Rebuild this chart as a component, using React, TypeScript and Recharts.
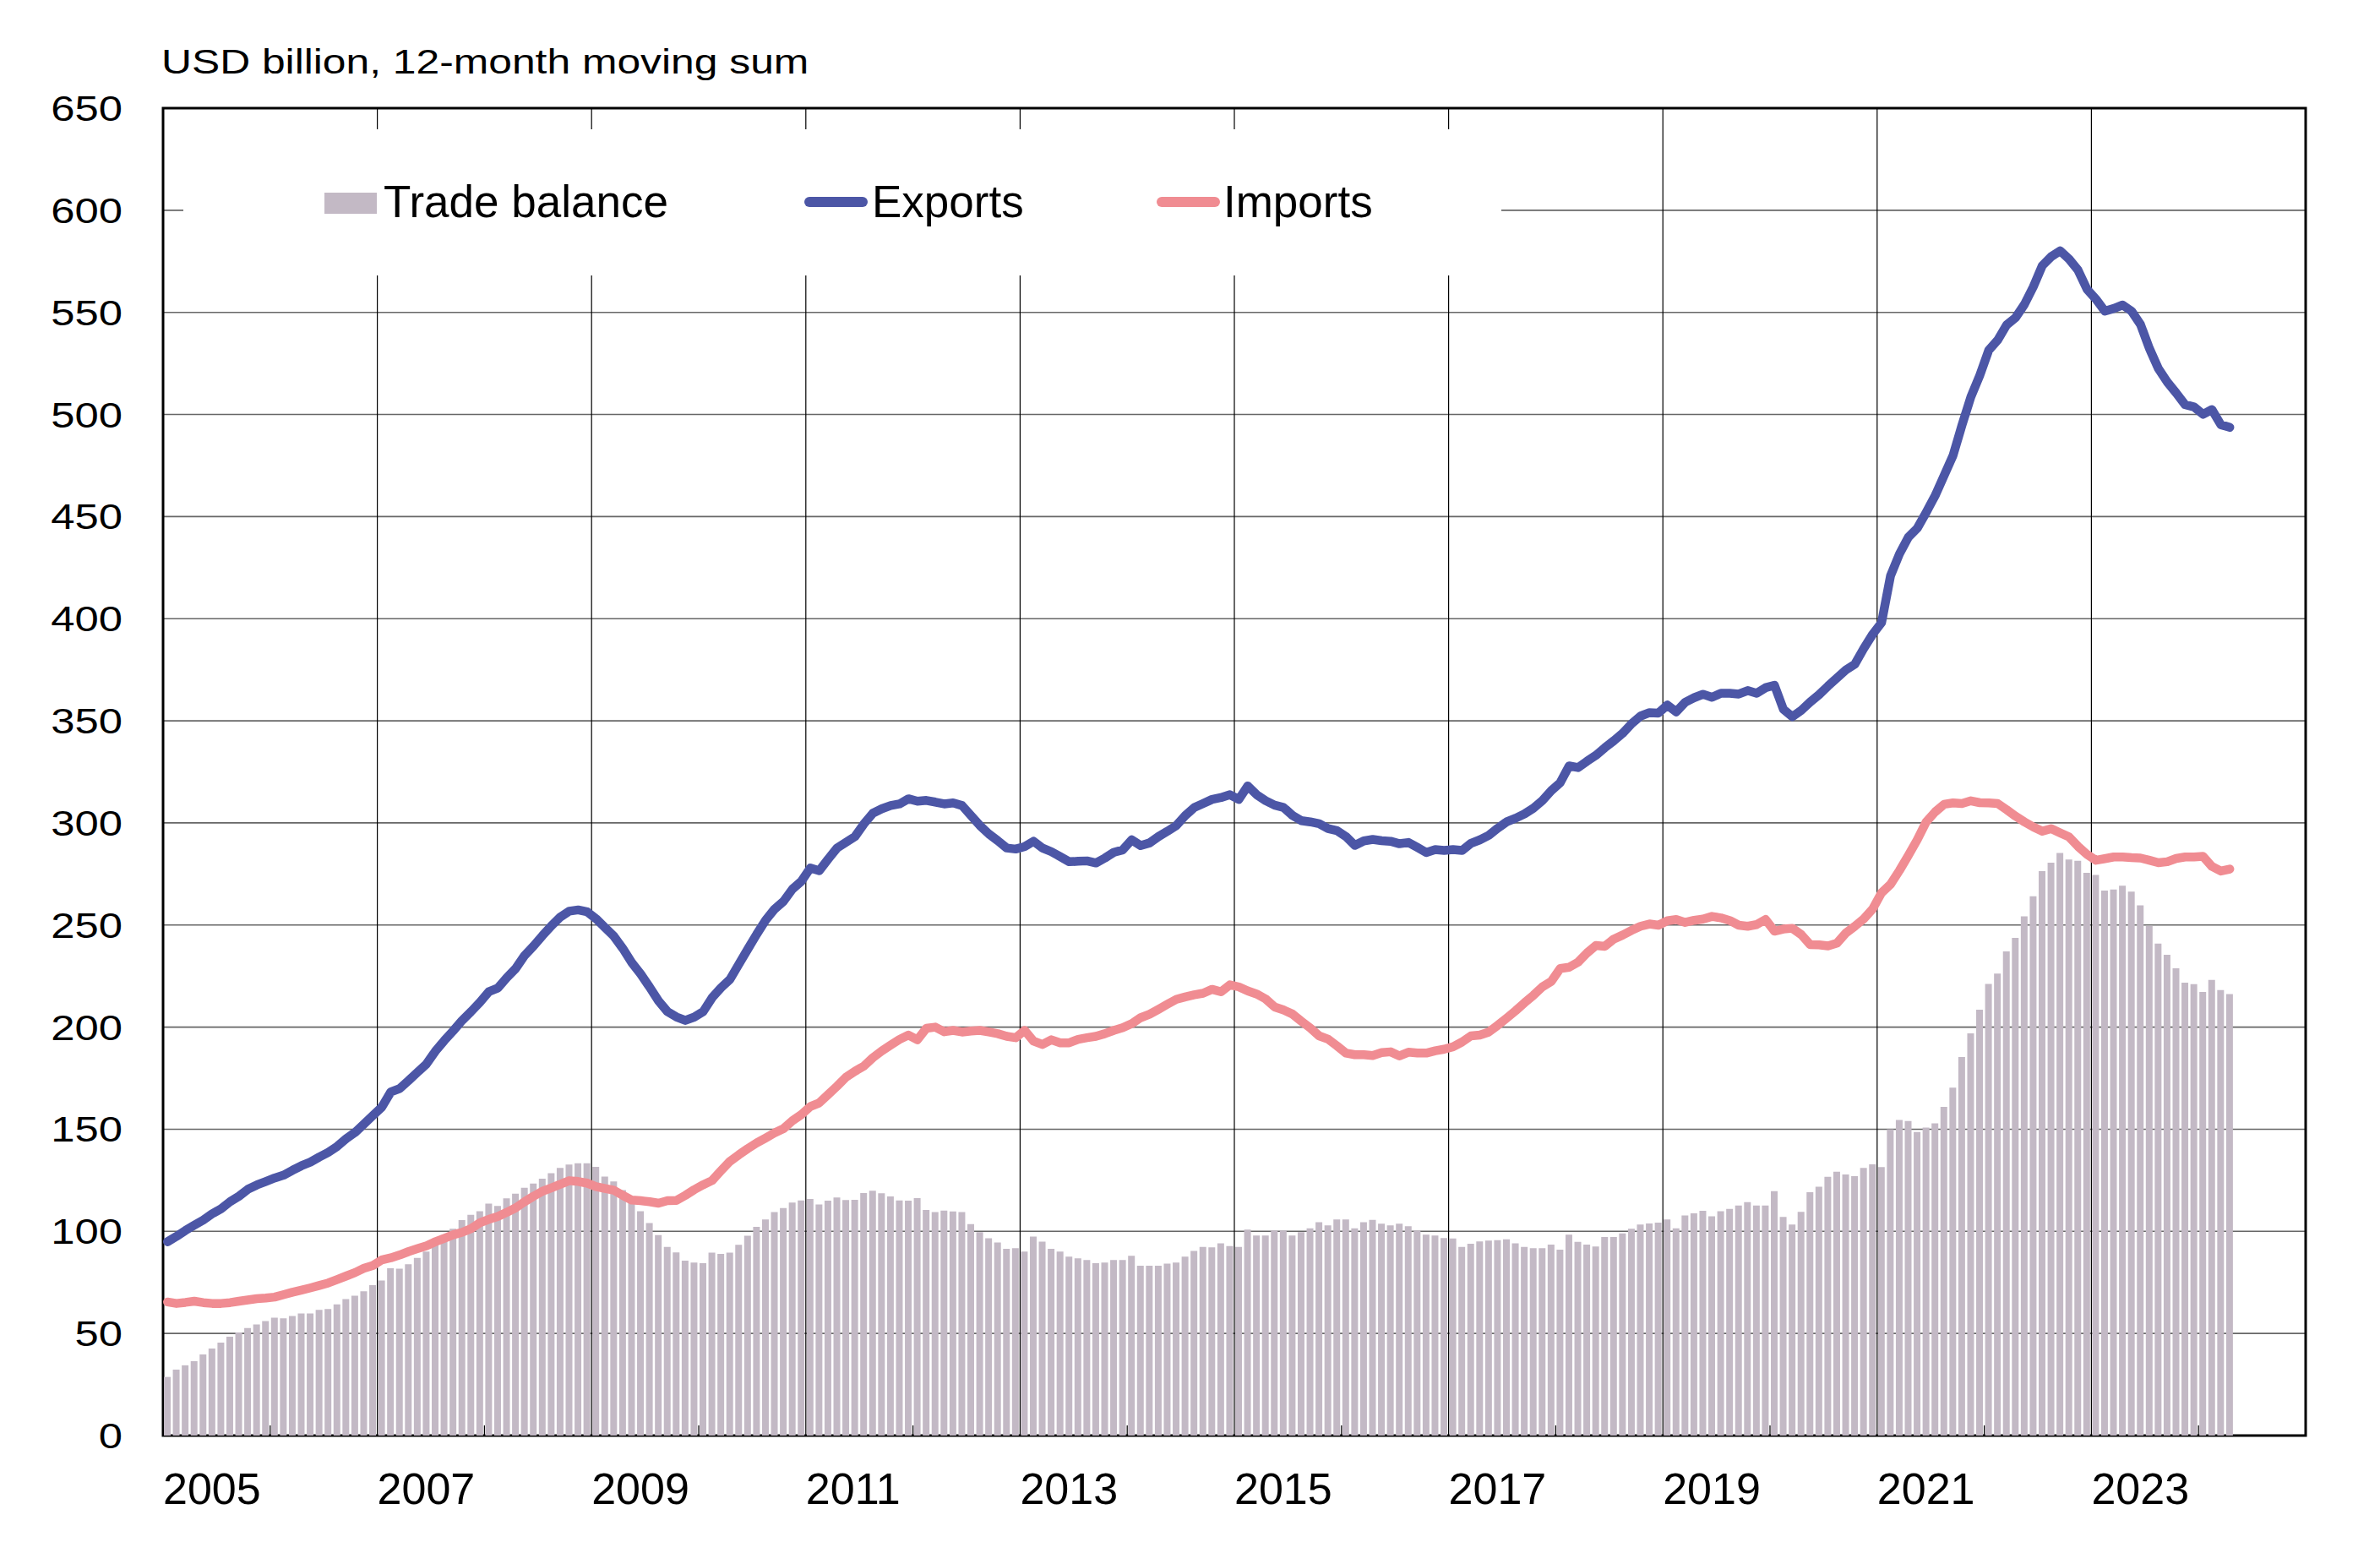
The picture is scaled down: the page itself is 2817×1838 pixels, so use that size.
import React from 'react';
import {
  ComposedChart,
  Bar,
  Line,
  XAxis,
  YAxis,
  CartesianGrid,
  ReferenceLine,
  ReferenceArea,
  Legend
} from 'recharts';

const FONT = "'Liberation Sans', Arial, Helvetica, sans-serif";

// Monthly values, Jan 2005 .. Apr 2024, USD billion (12-month moving sum)
const tradeBalance = [
  28.7, 32.3, 34.4, 36.4, 39.7, 42.6, 45.5, 48.4, 50.5, 52.7, 54.4, 56.1,
  57.7, 57.4, 58.5, 59.8, 59.8, 61.5, 62.0, 64.2, 66.8, 68.5, 70.6, 73.6,
  75.9, 81.9, 81.7, 83.9, 87.0, 90.1, 94.0, 98.2, 101.3, 105.5, 108.1, 109.8,
  113.6, 112.4, 116.2, 118.4, 121.3, 123.4, 125.8, 128.5, 131.1, 132.7, 133.3, 133.3,
  131.6, 126.8, 124.4, 120.2, 114.7, 109.9, 104.1, 98.2, 92.4, 89.7, 85.6, 84.7,
  84.4, 89.6, 89.0, 89.6, 93.4, 97.8, 102.2, 105.8, 109.4, 111.4, 114.1, 115.1,
  115.8, 113.2, 115.0, 116.6, 115.3, 115.4, 118.7, 119.9, 118.6, 117.1, 115.1, 115.0,
  116.3, 110.5, 109.4, 110.2, 109.7, 109.4, 103.5, 99.6, 96.6, 94.5, 91.4, 91.7,
  90.1, 97.4, 95.0, 91.4, 90.1, 87.6, 86.8, 86.0, 84.4, 84.7, 86.0, 86.0,
  88.0, 83.2, 83.2, 83.2, 84.2, 84.7, 87.6, 90.4, 92.4, 92.2, 94.1, 92.8,
  92.4, 100.9, 98.0, 98.0, 100.4, 100.4, 98.0, 99.6, 101.5, 104.5, 102.9, 105.8,
  105.8, 101.5, 104.5, 105.6, 103.7, 102.9, 103.7, 102.5, 100.4, 98.4, 98.0, 96.7,
  96.5, 92.4, 93.9, 95.1, 95.5, 95.7, 96.1, 94.1, 92.4, 91.8, 91.8, 93.5,
  91.0, 98.4, 94.9, 93.5, 92.6, 97.2, 97.2, 99.0, 101.3, 103.3, 103.9, 104.3,
  105.8, 101.5, 107.8, 108.8, 110.1, 107.4, 109.9, 111.0, 112.6, 114.3, 112.6, 112.6,
  119.7, 107.1, 103.3, 109.5, 119.2, 121.8, 126.7, 129.2, 127.9, 127.0, 131.1, 132.8,
  131.5, 150.0, 154.5, 154.0, 148.6, 150.8, 152.9, 160.9, 170.4, 185.4, 196.9, 208.5,
  221.1, 226.2, 237.1, 243.7, 254.2, 264.1, 276.4, 280.5, 285.3, 282.1, 281.5, 275.6,
  274.5, 266.9, 267.4, 269.2, 266.3, 259.6, 249.6, 240.9, 235.4, 228.8, 221.8, 221.0,
  217.2, 223.1, 218.2, 216.2
];

const exportsBn = [
  94.9, 97.5, 100.4, 103.0, 105.5, 108.6, 111.0, 114.5, 117.2, 120.6, 122.7, 124.4,
  126.1, 127.5, 129.9, 132.1, 133.9, 136.4, 138.7, 141.6, 145.3, 148.4, 152.5, 156.7,
  160.8, 168.2, 169.9, 173.8, 177.9, 181.9, 188.2, 193.4, 198.2, 203.3, 207.6, 212.2,
  217.4, 219.1, 224.2, 228.7, 235.1, 239.7, 244.8, 249.6, 253.9, 256.8, 257.4, 256.5,
  253.1, 248.8, 244.5, 238.5, 231.6, 226.0, 219.6, 212.8, 207.6, 205.0, 203.3, 204.9,
  207.6, 214.4, 219.3, 223.4, 230.8, 238.2, 245.5, 252.4, 257.8, 261.6, 267.6, 271.4,
  277.9, 276.6, 282.3, 287.7, 290.5, 293.3, 299.5, 304.7, 306.9, 308.5, 309.3, 311.8,
  310.6, 311.0, 310.2, 309.3, 309.8, 308.5, 303.6, 298.7, 294.6, 291.3, 287.7, 287.2,
  288.4, 291.0, 287.7, 285.9, 283.5, 281.0, 281.2, 281.4, 280.4, 282.8, 285.6, 286.8,
  291.7, 288.9, 290.2, 293.3, 295.9, 298.7, 303.6, 307.5, 309.5, 311.5, 312.4, 313.8,
  311.5, 318.1, 313.8, 310.9, 308.7, 307.6, 303.7, 301.1, 300.5, 299.6, 297.2, 296.2,
  293.3, 289.0, 291.2, 291.9, 291.3, 291.0, 289.8, 290.4, 288.0, 285.5, 286.9, 286.5,
  286.9, 286.5, 290.0, 291.7, 293.9, 297.4, 300.5, 302.3, 304.4, 307.2, 310.9, 315.8,
  319.7, 327.9, 327.1, 330.2, 333.1, 336.8, 340.2, 343.9, 348.6, 352.3, 354.0, 353.8,
  357.7, 354.4, 359.1, 361.3, 363.0, 361.5, 363.5, 363.5, 363.1, 364.8, 363.5, 366.2,
  367.4, 355.6, 352.0, 355.1, 359.2, 362.8, 367.0, 371.0, 374.9, 377.7, 385.4, 392.4,
  398.1, 421.0, 431.7, 439.9, 444.3, 452.1, 460.3, 470.1, 479.9, 494.7, 508.6, 519.2,
  531.5, 536.4, 543.8, 547.4, 553.9, 562.6, 572.9, 577.3, 580.1, 576.1, 570.7, 561.4,
  556.5, 550.6, 551.9, 553.6, 550.6, 544.1, 532.3, 522.5, 515.9, 510.5, 504.8, 503.7,
  500.1, 502.4, 495.0, 493.7
];

const importsBn = [
  65.4, 64.7, 65.2, 65.8, 65.1, 64.7, 64.7, 65.1, 65.8, 66.4, 67.0, 67.3,
  67.8, 69.0, 70.2, 71.2, 72.3, 73.5, 74.7, 76.4, 78.1, 79.8, 81.9, 83.3,
  86.0, 87.0, 88.4, 90.1, 91.5, 92.9, 94.9, 96.6, 98.3, 99.5, 101.3, 104.2,
  105.9, 107.3, 109.3, 111.5, 114.5, 117.2, 119.6, 121.3, 123.0, 124.8, 124.4, 123.6,
  121.9, 121.0, 120.1, 117.6, 115.3, 115.0, 114.5, 113.8, 115.0, 115.1, 117.6, 120.4,
  122.8, 124.9, 129.7, 134.3, 137.5, 140.5, 143.3, 145.7, 148.2, 150.3, 154.2, 157.2,
  161.1, 162.9, 167.0, 171.1, 175.5, 178.4, 180.9, 185.0, 188.3, 191.2, 194.0, 196.1,
  193.8, 199.4, 200.0, 197.7, 198.4, 197.6, 198.1, 198.4, 197.6, 196.8, 195.5, 194.8,
  198.4, 193.2, 191.5, 193.8, 192.3, 192.3, 194.0, 194.8, 195.5, 196.8, 198.4, 199.7,
  201.7, 204.6, 206.3, 208.7, 211.2, 213.6, 214.8, 215.8, 216.6, 218.5, 217.3, 220.7,
  219.7, 217.7, 216.2, 213.8, 209.9, 208.4, 206.4, 202.9, 199.6, 195.7, 194.1, 190.8,
  187.3, 186.5, 186.5, 186.1, 187.5, 187.9, 185.9, 187.7, 187.3, 187.3, 188.4, 189.2,
  190.4, 192.7, 195.7, 196.1, 197.6, 200.9, 204.4, 208.0, 211.9, 215.6, 219.7, 222.4,
  228.7, 229.3, 231.8, 236.3, 240.0, 239.6, 243.1, 245.1, 247.4, 249.4, 250.5, 249.9,
  252.1, 252.7, 251.3, 252.3, 252.9, 254.2, 253.5, 252.2, 249.9, 249.4, 250.2, 252.7,
  247.0, 248.0, 248.4, 245.3, 240.4, 240.3, 239.8, 241.1, 246.1, 249.4, 253.0, 257.9,
  265.8, 269.9, 276.7, 284.1, 291.8, 300.5, 305.4, 309.1, 309.8, 309.5, 310.8, 309.9,
  309.8, 309.5, 306.5, 303.3, 300.5, 298.0, 295.9, 297.2, 295.1, 293.1, 288.5, 284.6,
  281.7, 282.5, 283.3, 283.3, 283.0, 282.8, 281.7, 280.5, 281.0, 282.6, 283.3, 283.3,
  283.6, 278.7, 276.4, 277.4
];

// axis ticks: months counted from Jan 2005
const yTicks = [0, 50, 100, 150, 200, 250, 300, 350, 400, 450, 500, 550, 600, 650];
const xTicks = [0, 12, 24, 36, 48, 60, 72, 84, 96, 108, 120, 132, 144, 156, 168, 180, 192, 204, 216, 228];
const gridMonths = [24, 48, 72, 96, 120, 144, 168, 192, 216];

const COLORS = {
  balance: '#C3B9C5',
  exports: '#4C56A6',
  imports: '#F08C92'
};

const months = tradeBalance.map(
  (_, i) => `${2005 + Math.floor(i / 12)}-${String((i % 12) + 1).padStart(2, '0')}`
);

const chartData = months.map((month, i) => ({
  month,
  t: i + 0.5,
  balance: tradeBalance[i],
  exports: exportsBn[i],
  imports: importsBn[i]
}));

// year labels sit left-aligned on the gridlines, even years get a small inner tick
const XTick = ({ x, y, payload }: any) => {
  const t = payload.value;
  if (t % 24 === 0) {
    return (
      <text x={x} y={y + 81} textAnchor="start" fontSize={52} fontFamily={FONT} fill="#000">
        {2005 + t / 12}
      </text>
    );
  }
  return <line x1={x} x2={x} y1={y} y2={y - 12} stroke="#000" strokeWidth={1.2} />;
};

const YTick = ({ x, y, payload }: any) => (
  <g transform={`translate(${x - 48},${y + 15})`}>
    <text transform="scale(1.21,1)" textAnchor="end" fontSize={42} fontFamily={FONT} fill="#000">
      {payload.value}
    </text>
  </g>
);

const legendText: React.CSSProperties = {
  position: 'absolute',
  top: 59,
  fontSize: 53,
  lineHeight: '53px',
  fontFamily: FONT,
  color: '#000',
  whiteSpace: 'nowrap'
};

const LegendBox = () => (
  <div style={{ position: 'relative', width: 1560, height: 173 }}>
    <div style={{ position: 'absolute', left: 167, top: 75, width: 62, height: 25, background: COLORS.balance }} />
    <div style={{ ...legendText, left: 237 }}>Trade balance</div>
    <div style={{ position: 'absolute', left: 735, top: 80, width: 75, height: 12, borderRadius: 6, background: COLORS.exports }} />
    <div style={{ ...legendText, left: 815 }}>Exports</div>
    <div style={{ position: 'absolute', left: 1152, top: 80, width: 75, height: 12, borderRadius: 6, background: COLORS.imports }} />
    <div style={{ ...legendText, left: 1231 }}>Imports</div>
  </div>
);

const TradeChart: React.FC = () => {
  return (
    <div style={{ position: 'absolute', left: 0, top: 0, width: 2817, height: 1838, background: '#fff' }}>
      <div
        style={{
          position: 'absolute',
          left: 191,
          top: 53,
          fontSize: 41,
          lineHeight: '41px',
          fontFamily: FONT,
          color: '#000',
          whiteSpace: 'nowrap',
          transform: 'scaleX(1.214)',
          transformOrigin: 'left top'
        }}
      >
        USD billion, 12-month moving sum
      </div>
      <ComposedChart
        width={2817}
        height={1838}
        data={chartData}
        margin={{ top: 128, right: 88, bottom: 39, left: 43 }}
      >
        <CartesianGrid vertical={false} stroke="#666" strokeWidth={1.6} />
        <XAxis
          dataKey="t"
          type="number"
          domain={[0, 240]}
          ticks={xTicks}
          interval={0}
          allowDataOverflow
          height={100}
          tickSize={0}
          tickMargin={0}
          tickLine={false}
          axisLine={false}
          tick={<XTick />}
        />
        <YAxis
          type="number"
          domain={[0, 650]}
          ticks={yTicks}
          interval={0}
          allowDataOverflow
          width={150}
          tickSize={0}
          tickMargin={0}
          tickLine={false}
          axisLine={false}
          tick={<YTick />}
        />
        <Bar dataKey="balance" name="Trade balance" fill={COLORS.balance} barSize={8} isAnimationActive={false} />
        {gridMonths.map(m => (
          <ReferenceLine key={m} x={m} stroke="#000" strokeWidth={1.2} ifOverflow="visible" />
        ))}
        <Line
          type="linear"
          dataKey="exports"
          name="Exports"
          stroke={COLORS.exports}
          strokeWidth={10.5}
          strokeLinejoin="round"
          strokeLinecap="round"
          dot={false}
          isAnimationActive={false}
        />
        <Line
          type="linear"
          dataKey="imports"
          name="Imports"
          stroke={COLORS.imports}
          strokeWidth={10.5}
          strokeLinejoin="round"
          strokeLinecap="round"
          dot={false}
          isAnimationActive={false}
        />
        <ReferenceArea
          x1={0}
          x2={240}
          y1={0}
          y2={650}
          fill="none"
          fillOpacity={0}
          stroke="#000"
          strokeWidth={3}
          ifOverflow="visible"
        />
        <Legend
          layout="vertical"
          align="center"
          verticalAlign="middle"
          wrapperStyle={{ left: 217, top: 153, width: 1560, height: 173, background: '#fff' }}
          content={<LegendBox />}
        />
      </ComposedChart>
    </div>
  );
};

export default function App() {
  return <TradeChart />;
}
